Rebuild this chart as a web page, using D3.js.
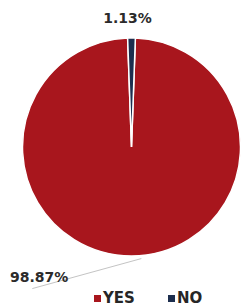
<!DOCTYPE html>
<html>
<head>
<meta charset="utf-8">
<script src="https://cdn.jsdelivr.net/npm/d3@7"></script>
<style>
  html, body { margin: 0; padding: 0; background: #fff; }
  svg { display: block; }
  text { font-family: "DejaVu Sans", sans-serif; font-weight: bold; }
</style>
</head>
<body>
<div id="chart"></div>
<script>
// chart values
let categories = ['YES', 'NO'];
let values = [98.87, 1.13];
let colors = ['#a8161d', '#1d2e4e'];

let width = 242, height = 308;
let cx = 131.5, cy = 147, radius = 109;

let svg = d3.select('#chart')
    .append('svg')
    .attr('width', width)
    .attr('height', height);

let colorScale = d3.scaleOrdinal().domain(categories).range(colors);

// NO slice sits centred on 12 o'clock, YES goes clockwise round from it
let offset = Math.PI * values[1] / 100;
let pie = d3.pie().sort(null).value(d => d.value)
    .startAngle(offset).endAngle(offset + 2 * Math.PI);

let data = categories.map((c, i) => ({cat: c, value: values[i]}));
let arcs = pie(data);

let arc = d3.arc().innerRadius(0).outerRadius(radius);

let g = svg.append('g').attr('transform', `translate(${cx},${cy})`);

g.selectAll('path')
    .data(arcs)
    .join('path')
    .attr('d', arc)
    .attr('fill', d => colorScale(d.data.cat))
    .attr('stroke', '#fff')
    .attr('stroke-width', 1.5);

function pointAt(angle, r) {
    return [Math.sin(angle) * r, -Math.cos(angle) * r];
}

// label for NO, above the slice
let noArc = arcs[1];
let noMid = (noArc.startAngle + noArc.endAngle) / 2;
let pNo = pointAt(noMid, radius + 15);
g.append('text')
    .attr('x', pNo[0] - 4)
    .attr('y', pNo[1])
    .attr('text-anchor', 'middle')
    .attr('font-size', 14)
    .attr('fill', '#2b2b2b')
    .text(values[1].toFixed(2) + '%');

// label for YES, bottom left with a leader line
let yesArc = arcs[0];
let yesPoint = pointAt(Math.PI * 0.972, radius + 3);
g.append('line')
    .attr('x1', yesPoint[0] - 109)
    .attr('y1', yesPoint[1] + 30)
    .attr('x2', yesPoint[0])
    .attr('y2', yesPoint[1])
    .attr('stroke', '#c4c4c4')
    .attr('stroke-width', 1);
g.append('text')
    .attr('x', yesPoint[0] - 73)
    .attr('y', yesPoint[1] + 23)
    .attr('text-anchor', 'end')
    .attr('font-size', 14)
    .attr('fill', '#2b2b2b')
    .text(values[0].toFixed(2) + '%');

// legend
let legendX = d3.scalePoint().domain(categories).range([94, 168]);
let legend = svg.append('g').attr('transform', 'translate(0,295)');
let items = legend.selectAll('g')
    .data(categories)
    .join('g')
    .attr('transform', d => `translate(${legendX(d)},0)`);
items.append('rect')
    .attr('width', 7)
    .attr('height', 7)
    .attr('fill', d => colorScale(d));
items.append('text')
    .attr('x', 9)
    .attr('y', 8)
    .attr('font-size', 15)
    .attr('fill', '#262626')
    .text(d => d);
</script>
</body>
</html>
